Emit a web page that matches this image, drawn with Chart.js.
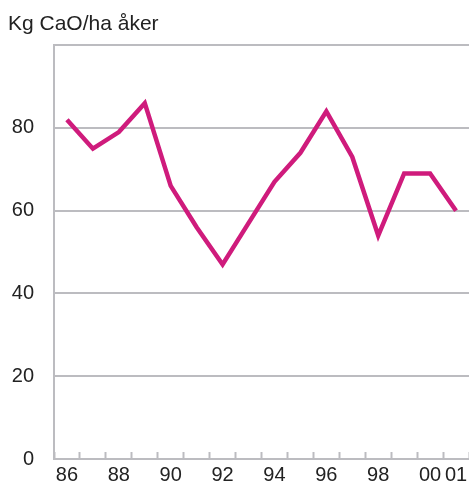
<!DOCTYPE html>
<html>
<head>
<meta charset="utf-8">
<script src="https://cdn.jsdelivr.net/npm/chart.js@4"></script>
<style>
  html, body { margin: 0; padding: 0; background: #fff; }
  #wrap { width: 469px; height: 482px; }
</style>
</head>
<body>
<div id="wrap"><canvas id="myChart"></canvas></div>
<script>
// years on the x axis
const years = ['86', '87', '88', '89', '90', '91', '92', '93', '94', '95', '96', '97', '98', '99', '00', '01'];
// kg CaO per ha arable land
const lime = [82, 75, 79, 86, 66, 56, 47, 57, 67, 74, 84, 73, 54, 69, 69, 60];
// which year labels are printed
const shownYears = ['86', '88', '90', '92', '94', '96', '98', '00', '01'];
const yTicks = [0, 20, 40, 60, 80];

const grey = '#bcbcc0';
const fontFam = '"Liberation Sans", Arial, Helvetica, sans-serif';

document.addEventListener('DOMContentLoaded', function() {
    const ctx = document.getElementById('myChart');
    new Chart(ctx, {
        type: 'line',
        data: {
            labels: years,
            datasets: [{
                data: lime,
                borderColor: '#cf1b7c',
                borderWidth: 4.5,
                pointRadius: 0,
                tension: 0,
                fill: false
            }]
        },
        options: {
            responsive: true,
            maintainAspectRatio: false,
            animation: false,
            layout: { padding: { left: 8, right: 0, top: 0, bottom: 0 } },
            plugins: {
                legend: { display: false },
                tooltip: { enabled: false },
                title: {
                    display: true,
                    text: 'Kg CaO/ha åker',
                    align: 'start',
                    color: '#222',
                    font: { family: fontFam, size: 21, weight: 'normal', lineHeight: 1.2 },
                    padding: { top: 12, bottom: 8 }
                }
            },
            scales: {
                x: {
                    type: 'category',
                    offset: true,
                    afterFit: function(scale) {
                        scale.height = 23;
                        scale.paddingLeft = 0;
                        scale.paddingRight = 0;
                    },
                    grid: {
                        offset: true,
                        drawOnChartArea: false,
                        drawTicks: true,
                        tickLength: -7,
                        tickWidth: 2,
                        tickColor: grey
                    },
                    border: { display: true, color: grey, width: 2 },
                    ticks: {
                        autoSkip: false,
                        maxRotation: 0,
                        padding: 13,
                        color: '#222',
                        font: { family: fontFam, size: 20, lineHeight: 1 },
                        callback: function(val, i) {
                            const lab = years[i];
                            return shownYears.includes(lab) ? lab : '';
                        }
                    }
                },
                y: {
                    min: 0,
                    max: 100,
                    afterFit: function(scale) {
                        scale.width = 46;
                        scale.paddingTop = 0;
                        scale.paddingBottom = 0;
                    },
                    afterBuildTicks: function(scale) {
                        scale.ticks = yTicks.concat([100]).map(v => ({ value: v }));
                    },
                    grid: {
                        color: grey,
                        lineWidth: 2,
                        drawTicks: false
                    },
                    border: { display: true, color: grey, width: 2 },
                    ticks: {
                        padding: 20,
                        color: '#222',
                        font: { family: fontFam, size: 20 },
                        callback: function(val) {
                            return yTicks.includes(val) ? String(val) : '';
                        }
                    }
                }
            }
        }
    });
});
</script>
</body>
</html>
